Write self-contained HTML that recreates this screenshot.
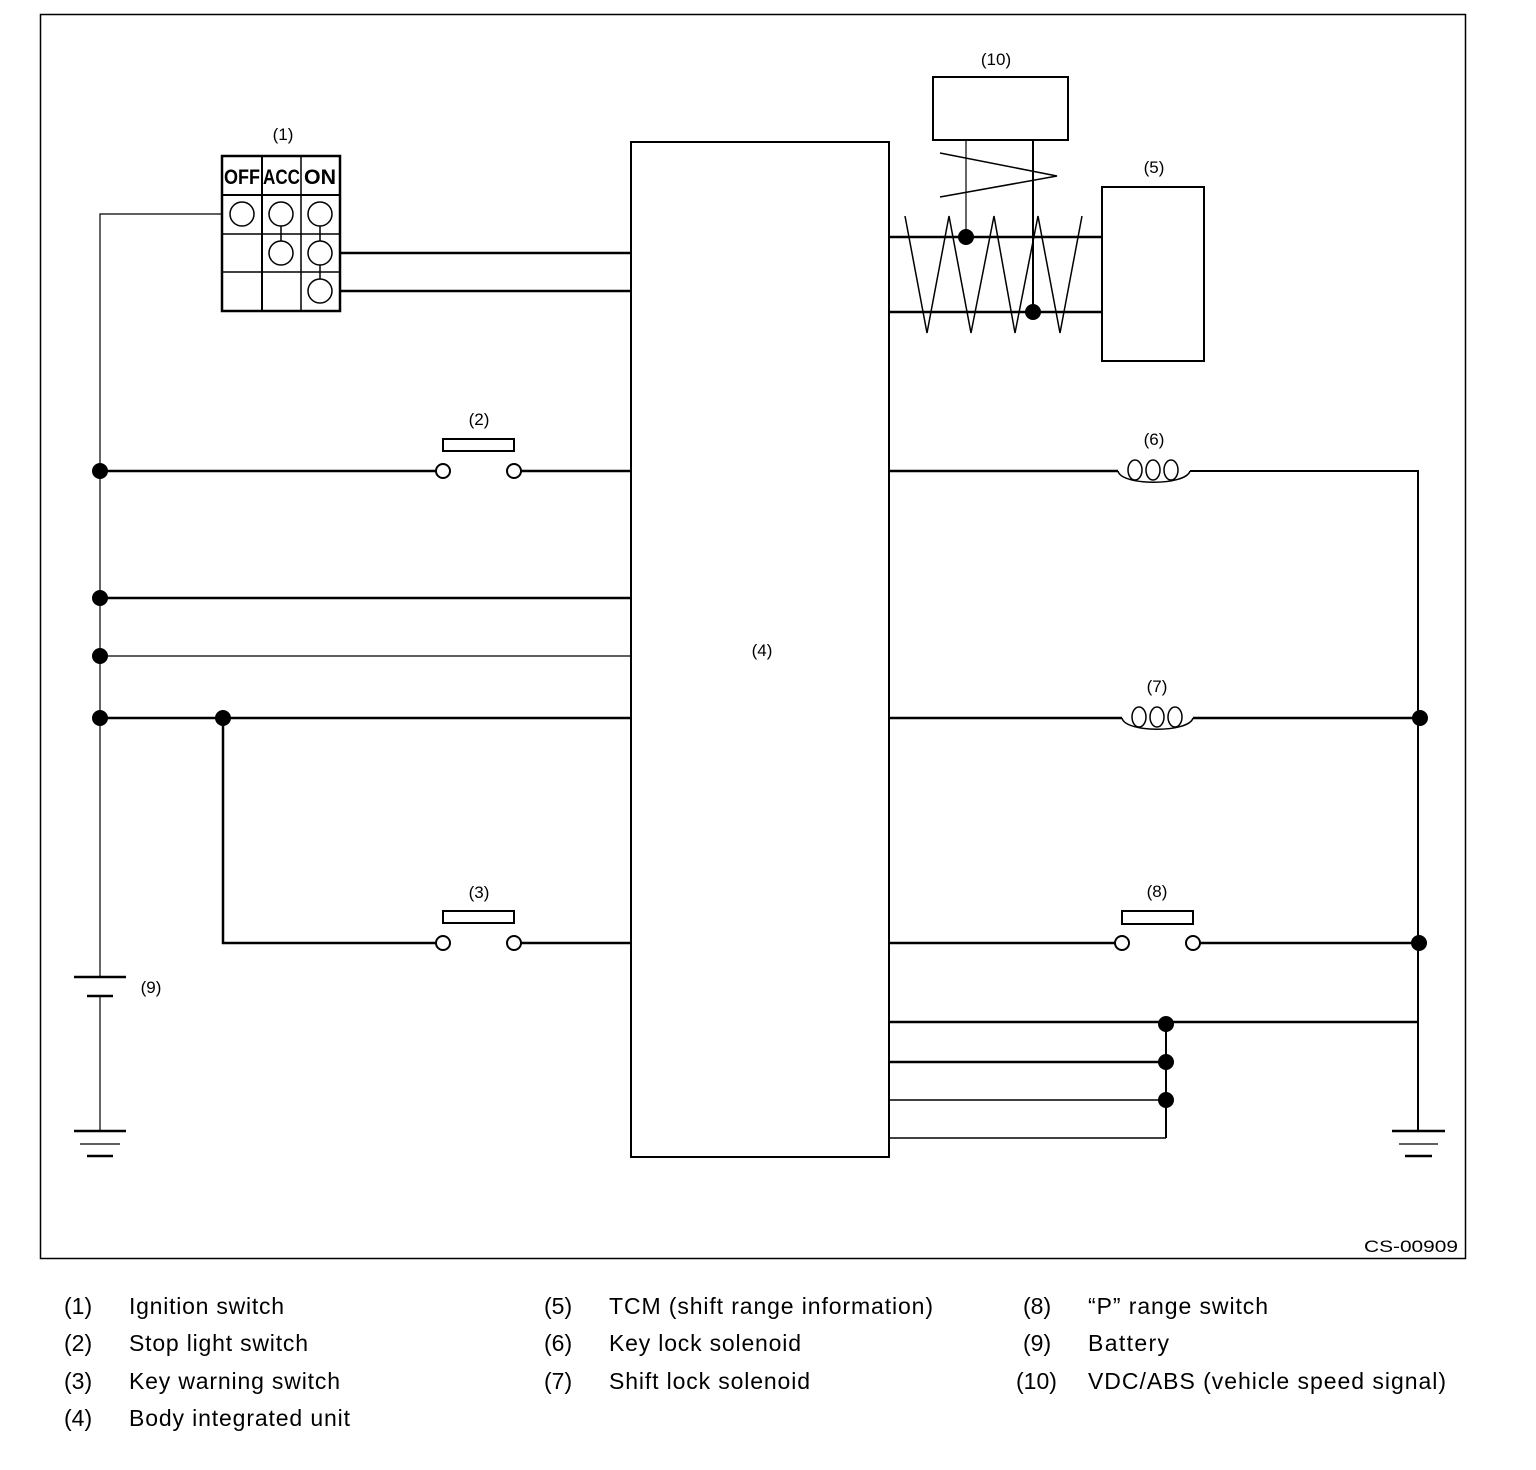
<!DOCTYPE html>
<html><head><meta charset="utf-8"><style>
html,body{margin:0;padding:0;background:#fff;}
svg{display:block;}
text{font-family:"Liberation Sans",sans-serif;fill:#000;}
</style></head><body>
<svg width="1536" height="1470" viewBox="0 0 1536 1470" xmlns="http://www.w3.org/2000/svg">
<g fill="none" stroke="#000">
<rect x="40.5" y="14.5" width="1425" height="1244" stroke-width="1.5"/>
<rect x="631" y="142" width="258" height="1015" stroke-width="2"/>
<rect x="222" y="156" width="118" height="155" stroke-width="2.5"/>
<line x1="262" y1="156" x2="262" y2="311" stroke-width="2"/>
<line x1="301" y1="156" x2="301" y2="311" stroke-width="1.5"/>
<line x1="222" y1="195" x2="340" y2="195" stroke-width="2"/>
<line x1="222" y1="234" x2="340" y2="234" stroke-width="1.5"/>
<line x1="222" y1="272" x2="340" y2="272" stroke-width="1.5"/>
<g stroke-width="1.5">
<circle cx="242" cy="214" r="12"/><circle cx="281" cy="214" r="12"/><circle cx="320" cy="214" r="12"/>
<circle cx="281" cy="253" r="12"/><circle cx="320" cy="253" r="12"/><circle cx="320" cy="291" r="12"/>
<line x1="281" y1="226" x2="281" y2="241"/><line x1="320" y1="226" x2="320" y2="241"/><line x1="320" y1="265" x2="320" y2="279"/>
</g>
<line x1="340" y1="253" x2="631" y2="253" stroke-width="2.5"/>
<line x1="340" y1="291" x2="631" y2="291" stroke-width="2.5"/>
<polyline points="222,214 100,214 100,977" stroke-width="1.2"/>
<line x1="74" y1="977" x2="126" y2="977" stroke-width="2.5"/>
<line x1="87" y1="996" x2="113" y2="996" stroke-width="2.5"/>
<line x1="100" y1="996" x2="100" y2="1131" stroke-width="1.2"/>
<line x1="74" y1="1131" x2="126" y2="1131" stroke-width="2.5"/>
<line x1="80" y1="1144" x2="120" y2="1144" stroke-width="1.2"/>
<line x1="87" y1="1156" x2="113" y2="1156" stroke-width="2.5"/>
<line x1="100" y1="471" x2="436" y2="471" stroke-width="2.5"/>
<line x1="521" y1="471" x2="631" y2="471" stroke-width="2.5"/>
<rect x="443" y="439" width="71" height="12" stroke-width="2"/>
<circle cx="443" cy="471" r="7" stroke-width="2"/><circle cx="514" cy="471" r="7" stroke-width="2"/>
<line x1="100" y1="598" x2="631" y2="598" stroke-width="2.5"/>
<line x1="100" y1="656" x2="631" y2="656" stroke-width="1.2"/>
<line x1="100" y1="718" x2="631" y2="718" stroke-width="2.5"/>
<polyline points="223,718 223,943 436,943" stroke-width="2.5"/>
<line x1="521" y1="943" x2="631" y2="943" stroke-width="2.5"/>
<rect x="443" y="911" width="71" height="12" stroke-width="2"/>
<circle cx="443" cy="943" r="7" stroke-width="2"/><circle cx="514" cy="943" r="7" stroke-width="2"/>
<rect x="933" y="77" width="135" height="63" stroke-width="2"/>
<rect x="1102" y="187" width="102" height="174" stroke-width="2"/>
<line x1="966" y1="140" x2="966" y2="237" stroke-width="1.2"/>
<line x1="1033" y1="140" x2="1033" y2="312" stroke-width="2"/>
<polyline points="940,153 1057,176 940,197" stroke-width="1.5"/>
<polyline points="905,216 927,333 949,216 971,333 994,216 1015,333 1038,216 1060,333 1082,216" stroke-width="1.5"/>
<line x1="889" y1="237" x2="1102" y2="237" stroke-width="2.5"/>
<line x1="889" y1="312" x2="1102" y2="312" stroke-width="2.5"/>
<line x1="889" y1="471" x2="1118" y2="471" stroke-width="2.5"/>
<polyline points="1190,471 1418,471 1418,1131" stroke-width="2"/>
<g stroke-width="1.5">
<ellipse cx="1135" cy="470" rx="7" ry="10"/><ellipse cx="1153" cy="470" rx="7" ry="10"/><ellipse cx="1171" cy="470" rx="7" ry="10"/>
<path d="M1118,471 C1121,486 1186,486 1190,471"/>
</g>
<line x1="889" y1="718" x2="1122" y2="718" stroke-width="2.5"/>
<line x1="1193" y1="718" x2="1420" y2="718" stroke-width="2.5"/>
<g stroke-width="1.5">
<ellipse cx="1139" cy="717" rx="7" ry="10"/><ellipse cx="1157" cy="717" rx="7" ry="10"/><ellipse cx="1175" cy="717" rx="7" ry="10"/>
<path d="M1122,718 C1125,733 1189,733 1193,718"/>
</g>
<line x1="889" y1="943" x2="1115" y2="943" stroke-width="2.5"/>
<line x1="1200" y1="943" x2="1419" y2="943" stroke-width="2.5"/>
<rect x="1122" y="911" width="71" height="13" stroke-width="2"/>
<circle cx="1122" cy="943" r="7" stroke-width="2"/><circle cx="1193" cy="943" r="7" stroke-width="2"/>
<line x1="1392" y1="1131" x2="1445" y2="1131" stroke-width="2.5"/>
<line x1="1399" y1="1144" x2="1438" y2="1144" stroke-width="1.2"/>
<line x1="1405" y1="1156" x2="1432" y2="1156" stroke-width="2.5"/>
<line x1="889" y1="1022" x2="1417" y2="1022" stroke-width="2.5"/>
<line x1="889" y1="1062" x2="1166" y2="1062" stroke-width="2.5"/>
<line x1="889" y1="1100" x2="1166" y2="1100" stroke-width="1.5"/>
<line x1="889" y1="1138" x2="1166" y2="1138" stroke-width="1.5"/>
<line x1="1166" y1="1022" x2="1166" y2="1138" stroke-width="2"/>
</g>
<g fill="#000">
<circle cx="100" cy="471" r="8"/><circle cx="100" cy="598" r="8"/><circle cx="100" cy="656" r="8"/><circle cx="100" cy="718" r="8"/><circle cx="223" cy="718" r="8"/>
<circle cx="966" cy="237" r="8"/><circle cx="1033" cy="312" r="8"/>
<circle cx="1420" cy="718" r="8"/><circle cx="1419" cy="943" r="8"/>
<circle cx="1166" cy="1024" r="8"/><circle cx="1166" cy="1062" r="8"/><circle cx="1166" cy="1100" r="8"/>
</g>
<g font-size="17" text-anchor="middle">
<text x="283" y="140">(1)</text>
<text x="479" y="425">(2)</text>
<text x="479" y="898">(3)</text>
<text x="762" y="656">(4)</text>
<text x="1154" y="173">(5)</text>
<text x="1154" y="445">(6)</text>
<text x="1157" y="692">(7)</text>
<text x="1157" y="897">(8)</text>
<text x="151" y="993">(9)</text>
<text x="996" y="65">(10)</text>
</g>
<text x="1364" y="1252" font-size="17" textLength="94" lengthAdjust="spacingAndGlyphs">CS-00909</text>
<g font-size="21" font-weight="bold">
<text x="224" y="184" textLength="36" lengthAdjust="spacingAndGlyphs">OFF</text>
<text x="263" y="184" textLength="37" lengthAdjust="spacingAndGlyphs">ACC</text>
<text x="304" y="184" textLength="32" lengthAdjust="spacingAndGlyphs">ON</text>
</g>
<g font-size="23" lengthAdjust="spacingAndGlyphs">
<text x="64" y="1314">(1)</text><text x="129" y="1314" textLength="155">Ignition switch</text>
<text x="64" y="1351">(2)</text><text x="129" y="1351" textLength="179">Stop light switch</text>
<text x="64" y="1389">(3)</text><text x="129" y="1389" textLength="211">Key warning switch</text>
<text x="64" y="1426">(4)</text><text x="129" y="1426" textLength="221">Body integrated unit</text>
<text x="544" y="1314">(5)</text><text x="609" y="1314" textLength="324">TCM (shift range information)</text>
<text x="544" y="1351">(6)</text><text x="609" y="1351" textLength="192">Key lock solenoid</text>
<text x="544" y="1389">(7)</text><text x="609" y="1389" textLength="201">Shift lock solenoid</text>
<text x="1023" y="1314">(8)</text><text x="1088" y="1314" textLength="180">“P” range switch</text>
<text x="1023" y="1351">(9)</text><text x="1088" y="1351" textLength="81">Battery</text>
<text x="1016" y="1389">(10)</text><text x="1088" y="1389" textLength="358">VDC/ABS (vehicle speed signal)</text>
</g>
</svg>
</body></html>
